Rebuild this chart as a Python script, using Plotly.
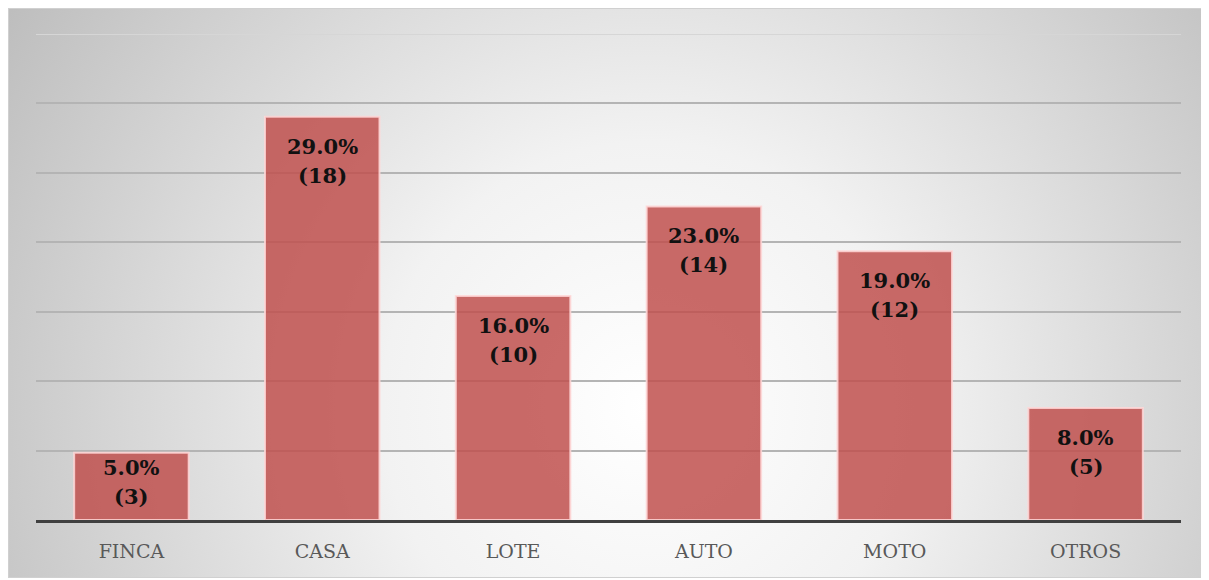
import base64
import plotly.graph_objects as go

categories = ["FINCA", "CASA", "LOTE", "AUTO", "MOTO", "OTROS"]
counts = [3, 18, 10, 14, 12, 5]
pct_labels = ["5.0%", "29.0%", "16.0%", "23.0%", "19.0%", "8.0%"]
total = 62
grid_step = total * 0.05  # gridline every 5 % of the total

W, H = 1201, 572
L, R, T, B = 28, 28, 26, 60
pw, ph = W - L - R, H - T - B
ymax = grid_step * 7

FW, FH = 1199, 570
svg = f'''<svg xmlns="http://www.w3.org/2000/svg" width="{FW}" height="{FH}" viewBox="0 0 {FW} {FH}" preserveAspectRatio="none">
<defs><radialGradient id="g" gradientUnits="userSpaceOnUse" cx="640" cy="400" r="760">
<stop offset="0" stop-color="#ffffff"/><stop offset="0.35" stop-color="#f2f2f2"/><stop offset="1" stop-color="#bdbdbd"/></radialGradient></defs>
<rect x="0" y="0" width="{FW}" height="{FH}" fill="url(#g)" stroke="#d0d0d0" stroke-width="2"/></svg>'''
src = "data:image/svg+xml;base64," + base64.b64encode(svg.encode()).decode()

fig = go.Figure()
fig.add_trace(go.Bar(
    x=categories, y=counts,
    marker=dict(color="rgba(192,80,77,0.85)", line=dict(color="rgba(255,215,215,0.85)", width=2)),
    hoverinfo="skip",
))

lab_font = dict(family="DejaVu Serif", size=21, color="#111111")
for c, v, p in zip(categories, counts, pct_labels):
    bar_px = v / ymax * ph
    gap = 15 if bar_px >= 80 else 0
    fig.add_annotation(x=c, y=v, text=f"<b>{p}</b>", showarrow=False,
                       yanchor="top", yshift=-gap, font=lab_font)
    fig.add_annotation(x=c, y=v, text=f"<b>({v})</b>", showarrow=False,
                       yanchor="top", yshift=-gap - 29, font=lab_font)

# faint top gridline
fig.add_shape(type="line", xref="paper", yref="y", x0=0, x1=1, y0=ymax, y1=ymax,
              line=dict(color="#d6d6d6", width=2), layer="below")

fig.add_layout_image(dict(
    source=src, xref="paper", yref="paper",
    x=-L / pw, y=(H - B) / ph, sizex=FW / pw, sizey=FH / ph,
    xanchor="left", yanchor="top", sizing="stretch", layer="below",
))

fig.update_layout(
    width=W, height=H,
    margin=dict(l=L, r=R, t=T, b=B),
    paper_bgcolor="white", plot_bgcolor="rgba(0,0,0,0)",
    bargap=0.4, showlegend=False,
    xaxis=dict(showline=True, linecolor="#404040", linewidth=3, ticks="",
               ticklabelstandoff=12,
               tickfont=dict(family="DejaVu Serif", size=19, color="#595959"),
               showgrid=False),
    yaxis=dict(range=[0, ymax], dtick=grid_step, tick0=0,
               showticklabels=False, showgrid=True, gridcolor="#b4b4b4", gridwidth=1.5,
               zeroline=False, showline=False),
)

fig.write_html("out.html")
